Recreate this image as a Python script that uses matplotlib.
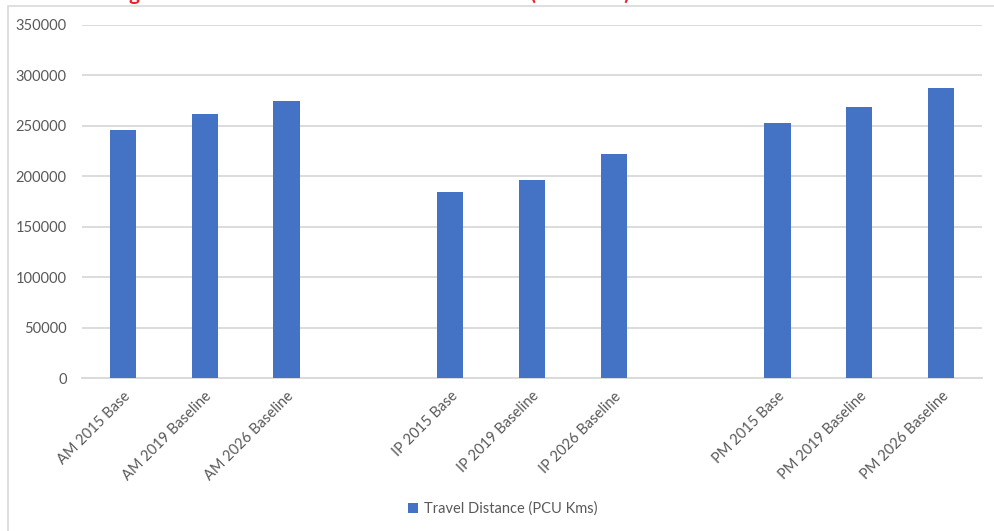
import matplotlib.pyplot as plt
from matplotlib.patches import Rectangle

# categories (blank slots separate AM / IP / PM groups)
categories = ['AM 2015 Base', 'AM 2019 Baseline', 'AM 2026 Baseline', '',
              'IP 2015 Base', 'IP 2019 Baseline', 'IP 2026 Baseline', '',
              'PM 2015 Base', 'PM 2019 Baseline', 'PM 2026 Baseline']
distance = [246000, 261500, 275000, None,
            184500, 196500, 222000, None,
            253000, 269000, 287500]
series_name = 'Travel Distance (PCU Kms)'
title = 'Figure 4: Modelled Network Travel Distance (PCU Kms)'

plt.rcParams['font.family'] = ['Lato', 'DejaVu Sans']

fig = plt.figure(figsize=(9.95, 5.31), dpi=100)
ax = fig.add_axes([82 / 995, 1 - 378 / 531, 900 / 995, 353 / 531])

# chart frame (right and bottom edges outside the picture)
fig.patches.append(Rectangle((8 / 995, -0.1), 1.2, 1 - 6 / 531 + 0.1,
                             transform=fig.transFigure, fill=False,
                             edgecolor='#d9d9d9', linewidth=1.2))

# red title, mostly cut off at the top (only descenders show)
fig.text(112 / 995, 1 + 0.5 / 531, title, color='#e8232a', fontsize=15,
         fontweight='bold', va='baseline', ha='left')

x = list(range(len(categories)))
heights = [v if v is not None else 0 for v in distance]
bars = ax.bar(x, heights, width=0.32, color='#4472c4', label=series_name, zorder=3)

ax.set_xlim(-0.5, len(categories) - 0.5)
ax.set_ylim(0, 350000)
ax.set_yticks(range(0, 350001, 50000))
ax.set_yticklabels([str(v) for v in range(0, 350001, 50000)])
ax.grid(axis='y', color='#d9d9d9', linewidth=1.3, zorder=0)

ax.set_xticks(x)
ax.set_xticklabels(categories, rotation=45, ha='right', rotation_mode='anchor')
ax.tick_params(axis='both', length=0, colors='#595959', labelsize=10.5)
ax.tick_params(axis='y', pad=11)
ax.tick_params(axis='x', pad=8)

for side in ['top', 'right', 'left']:
    ax.spines[side].set_visible(False)
ax.spines['bottom'].set_color('#d9d9d9')
ax.spines['bottom'].set_linewidth(1.3)

fig.legend(handles=[bars], labels=[series_name], loc='center',
           bbox_to_anchor=(503 / 995, 1 - 509 / 531), frameon=False,
           fontsize=10.5, labelcolor='#595959', handlelength=0.7,
           handleheight=0.7, handletextpad=0.4)

fig.savefig('out.png', dpi=100)
